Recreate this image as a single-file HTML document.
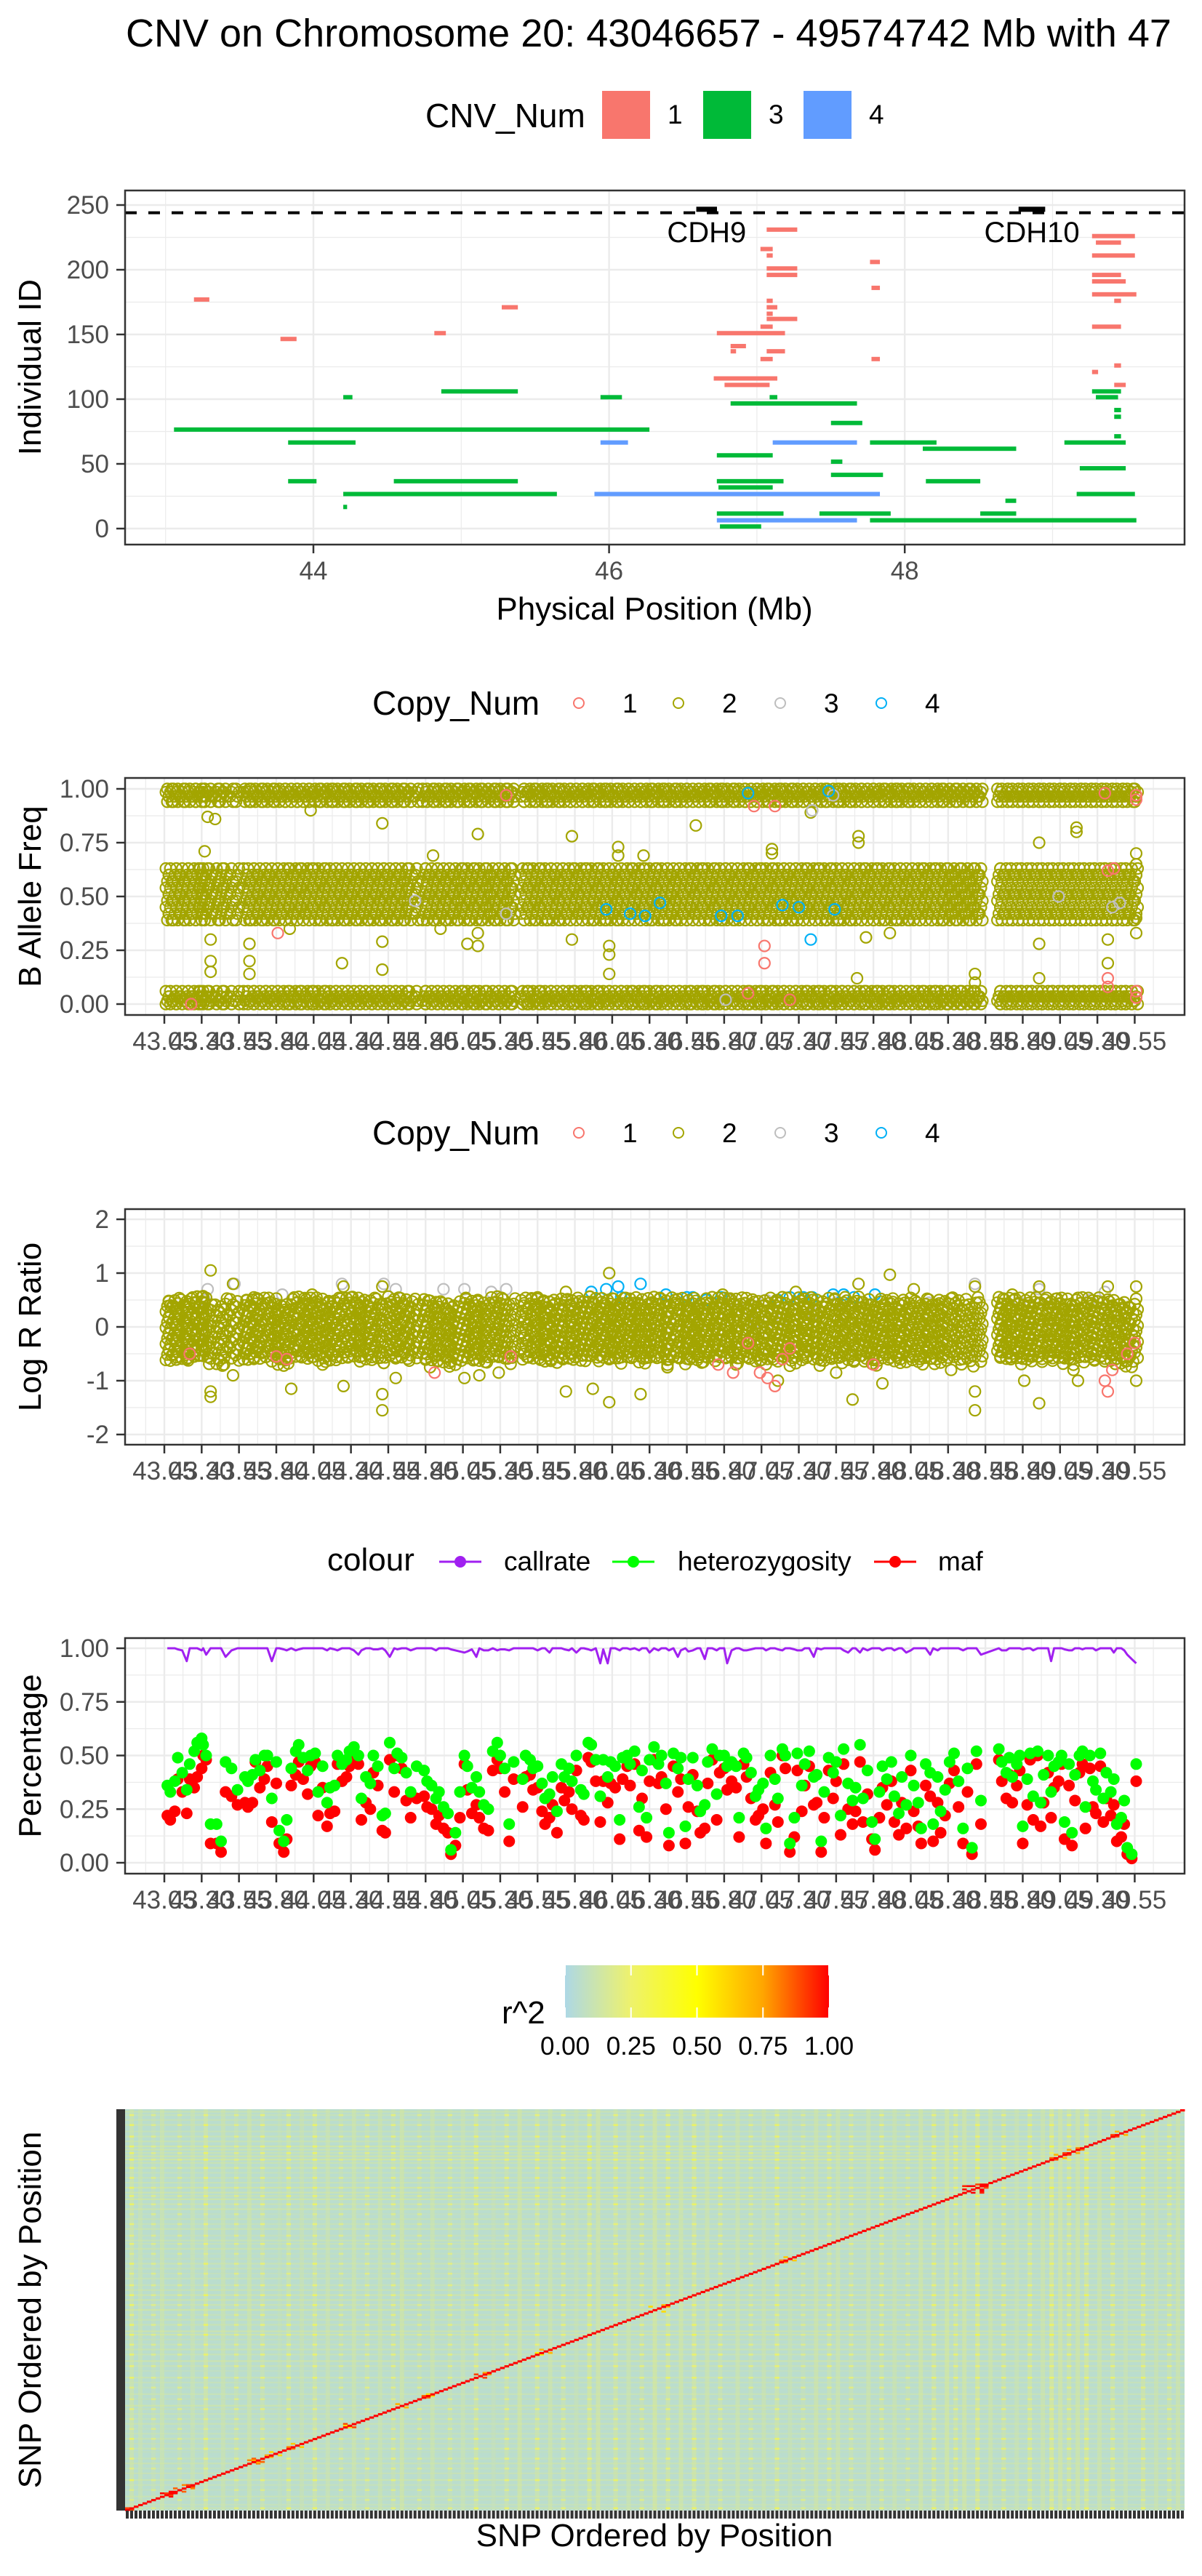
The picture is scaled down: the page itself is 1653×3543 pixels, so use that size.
<!DOCTYPE html>
<html><head><meta charset="utf-8">
<style>
html,body{margin:0;padding:0;background:#fff;}
svg{display:block;font-family:"Liberation Sans",Arial,sans-serif;}
</style></head>
<body>
<svg id="chart" width="1653" height="3543" viewBox="0 0 1653 3543" xmlns="http://www.w3.org/2000/svg">
<rect x="0" y="0" width="1653" height="3543" fill="#fff"/>
<text x="173" y="64" font-size="54" fill="#000">CNV on Chromosome 20: 43046657 - 49574742 Mb with 47</text>
</svg>
<script>
// ---------- DATA: CNV segments (panel 1) ----------
const cnvStart=[43.192,43.777,44.818,45.274,47.066,47.024,47.066,47.066,47.066,47.066,47.066,47.066,47.066,47.024,46.729,46.822,46.822,47.066,47.024,46.708,46.781,47.765,47.775,47.775,49.267,49.293,49.267,49.267,49.267,49.267,49.417,49.267,49.417,49.267,49.417,
44.865,44.202,45.942,47.086,49.267,49.293,46.822,47.501,49.417,49.417,43.057,49.417,43.829,47.765,49.080,48.122,46.729,47.501,47.501,49.184,43.829,44.544,46.729,48.143,46.740,44.202,49.163,48.681,44.202,46.729,47.423,48.511,47.765,46.750,
45.942,47.107,45.901,46.729];
const cnvEnd=[43.296,43.886,44.896,45.383,47.273,47.107,47.107,47.273,47.273,47.107,47.138,47.107,47.273,47.107,47.190,46.926,46.859,47.190,47.107,47.138,47.086,47.832,47.832,47.832,49.557,49.463,49.557,49.463,49.495,49.567,49.463,49.463,49.463,49.308,49.495,
45.383,44.264,46.087,47.138,49.463,49.443,47.677,47.713,49.463,49.463,46.273,49.463,44.285,48.215,49.495,48.754,47.107,47.578,47.853,49.495,44.021,45.383,47.180,48.511,47.107,45.647,49.557,48.754,44.228,47.180,47.905,48.754,49.567,47.029,
46.128,47.677,47.832,47.677];
const cnvId=[177,146.5,151,171,231,216,211,201,196,176,171,166,162,156,151,141,137,137,131,116,111,206,186,131,226,221,211,196,191,181,176,156,126,121,111,
106,101.5,101.5,101.5,106,101.5,96.7,81.6,91.6,86.4,76.5,71.3,66.5,66.5,66.5,61.7,56.6,51.7,41.5,46.6,36.6,36.6,36.6,36.6,31.8,26.7,26.7,21.5,16.7,11.6,11.6,11.6,6.4,1.6,
66.5,66.5,26.7,6.4];
const cnvType=[1,1,1,1,1,1,1,1,1,1,1,1,1,1,1,1,1,1,1,1,1,1,1,1,1,1,1,1,1,1,1,1,1,1,1,
3,3,3,3,3,3,3,3,3,3,3,3,3,3,3,3,3,3,3,3,3,3,3,3,3,3,3,3,3,3,3,3,3,3,
4,4,4,4];
const geneNames=["CDH9","CDH10"];
const geneStart=[46.59,48.77];
const geneEnd=[46.73,48.95];
const geneRow=[247,247];
const cnvThreshold=244;
const p1XTicks=[44,46,48];
const p1YTicks=[0,50,100,150,200,250];

// ---------- DATA: SNP positions & QC ----------
const snpPos=[43.07,43.09,43.12,43.14,43.17,43.2,43.22,43.25,43.27,43.3,43.31,43.33,43.36,43.4,43.43,43.46,43.5,43.54,
43.59,43.61,43.64,43.66,43.69,43.72,43.74,43.77,43.8,43.82,43.85,43.87,43.9,43.93,43.95,43.98,44.01,44.03,44.06,44.08,44.11,44.14,44.16,44.19,44.21,44.24,44.27,44.29,44.32,44.35,44.37,44.4,44.43,44.45,44.48,44.51,44.53,44.56,44.59,44.61,44.64,44.67,44.7,44.74,
44.79,44.81,44.84,44.87,44.89,44.92,44.95,44.97,45.0,45.03,45.06,45.08,45.11,45.14,45.16,45.19,45.22,45.25,45.28,45.3,45.33,45.36,45.39,
45.45,45.47,45.5,45.52,45.55,45.58,45.6,45.63,45.65,45.68,45.71,45.73,45.76,45.78,45.81,45.84,45.86,45.89,45.91,45.94,
45.97,45.99,46.02,46.04,46.07,46.1,46.12,46.15,46.17,46.2,46.23,46.25,46.28,46.3,46.33,46.36,46.38,46.41,46.43,46.46,
46.49,46.51,46.54,46.56,46.59,46.62,46.64,46.67,46.69,46.72,46.75,46.77,46.8,46.82,46.85,46.88,46.9,46.93,46.95,46.98,
47.01,47.03,47.06,47.08,47.11,47.14,47.16,47.19,47.21,47.24,47.27,47.29,47.32,47.34,47.37,47.4,47.42,47.45,47.47,47.5,
47.53,47.55,47.58,47.6,47.63,47.66,47.68,47.71,47.73,47.76,47.79,47.81,47.84,47.86,47.89,47.92,47.94,47.97,47.99,48.02,
48.05,48.07,48.1,48.12,48.15,48.18,48.2,48.23,48.25,48.28,48.31,48.34,48.37,48.4,48.43,48.46,48.49,48.52,
48.64,48.66,48.69,48.71,48.73,48.76,48.78,48.8,48.83,48.85,48.87,48.9,48.92,48.94,48.97,48.99,49.01,49.04,49.06,49.08,
49.11,49.13,49.15,49.18,49.2,49.22,49.25,49.27,49.29,49.32,49.34,49.36,49.39,49.41,49.43,49.46,49.48,49.5,49.53,49.56];
const callrate=[1,1,1,.995,.99,.94,1,1,1,.99,1,.97,1,1,1,.96,.99,1,
1,1,1,1,1,1,1,.94,1,1,.995,.99,1,.99,.995,1,1,1,1,1,1,.99,1,.995,.99,1,1,1,.99,.97,.99,1,1,.995,.995,1,.99,.96,1,.995,1,1,.99,1,
1,1,1,.99,1,1,1,.995,.99,.985,.98,.985,.995,.96,1,.99,.99,1,.99,.995,.995,.99,1,
1,1,1,1,.99,1,1,.98,1,1,1,.995,.99,1,.98,1,1,.995,.99,1,.93,.995,.93,1,1,.99,1,1,.995,1,
.99,1,1,.98,1,.99,1,1,.99,1,.96,.99,1,.985,.99,1,1,.95,1,1,.99,1,1,.93,.99,1,1,.99,.99,.995,
1,1,1,.99,1,1,.995,.99,1,1,.995,.99,.99,1,1,.96,1,.995,1,1,1,1,1,.99,.98,1,1,.98,1,.99,
1,1,1,.99,1,1,.99,1,1,.98,.99,1,1,1,1,.97,1,.99,1,1,1,1,1,.99,1,1,1,.97,
1,.99,.99,1,1,1,1,.995,1,1,.99,1,1,1,1,.94,1,1,1,.995,.99,.99,1,1,.995,1,1,1,.99,1,1,1,1,.98,1,1,.99,.97,.95,.93];
const maf=[.22,.2,.24,.39,.33,.23,.39,.35,.4,.44,.5,.48,.09,.09,.05,.33,.31,.27,
.28,.26,.28,.47,.35,.39,.45,.19,.37,.09,.05,.11,.36,.41,.47,.39,.32,.45,.47,.22,.35,.17,.23,.24,.46,.38,.4,.45,.48,.46,.2,.28,.25,.42,.36,.15,.14,.48,.33,.5,.44,.29,.21,.3,
.31,.26,.25,.18,.22,.16,.14,.04,.08,.21,.46,.34,.23,.27,.21,.16,.15,.43,.48,.44,.33,.1,.39,
.26,.4,.41,.34,.35,.24,.18,.21,.27,.14,.35,.29,.33,.25,.43,.22,.2,.49,.47,.38,.19,.38,.28,.37,.35,.11,.39,.45,.36,.46,
.15,.3,.12,.38,.48,.37,.4,.25,.08,.45,.33,.39,.09,.26,.41,.24,.14,.16,.37,.48,.2,.42,.44,.34,.38,.35,.12,.46,.4,.3,
.2,.22,.25,.09,.42,.27,.19,.5,.44,.05,.12,.43,.24,.36,.45,.27,.28,.05,.21,.43,.3,.38,.13,.46,.25,.18,.24,.47,.19,.32,
.11,.06,.21,.35,.27,.38,.19,.13,.28,.16,.43,.24,.17,.09,.36,.31,.1,.28,.14,.22,.37,.43,.26,.09,.33,.04,.46,.18,
.48,.38,.3,.41,.28,.36,.43,.09,.27,.48,.2,.5,.17,.28,.42,.21,.35,.38,.46,.11,.36,.08,.29,.42,.46,.16,.44,.26,.23,.45,.19,.3,.22,.27,.1,.12,.18,.04,.02,.38];
const het=[.36,.33,.38,.49,.42,.34,.46,.52,.56,.58,.55,.5,.18,.18,.1,.47,.44,.34,
.4,.38,.41,.48,.43,.5,.5,.3,.47,.15,.1,.2,.44,.52,.55,.49,.43,.5,.51,.33,.45,.28,.35,.36,.5,.46,.48,.52,.54,.5,.3,.4,.37,.5,.45,.22,.23,.56,.44,.51,.49,.42,.33,.45,
.43,.38,.36,.3,.33,.26,.23,.06,.14,.33,.5,.45,.35,.4,.33,.27,.25,.52,.56,.5,.44,.18,.47,
.39,.5,.48,.44,.45,.37,.3,.32,.4,.24,.46,.4,.44,.38,.5,.34,.32,.56,.55,.48,.31,.48,.4,.47,.45,.2,.49,.5,.46,.52,
.26,.43,.21,.48,.54,.46,.5,.37,.14,.51,.44,.49,.17,.39,.49,.36,.24,.27,.47,.53,.32,.5,.5,.45,.47,.45,.21,.51,.49,.42,
.31,.34,.37,.16,.5,.39,.3,.53,.5,.09,.21,.51,.36,.46,.52,.4,.41,.1,.33,.49,.42,.47,.22,.53,.37,.29,.35,.55,.3,.43,
.19,.11,.33,.45,.39,.47,.31,.23,.4,.27,.5,.36,.28,.16,.46,.42,.18,.4,.24,.34,.47,.51,.38,.16,.44,.07,.52,.29,
.53,.47,.42,.49,.4,.46,.5,.17,.39,.51,.31,.52,.28,.41,.5,.33,.45,.47,.5,.19,.46,.14,.41,.5,.52,.26,.5,.38,.34,.51,.3,.42,.33,.39,.18,.21,.29,.07,.04,.46];

// ---------- DATA: BAF ----------
const bafBandValues=[0,0.015,0.035,0.06,0.39,0.42,0.45,0.48,0.51,0.54,0.57,0.6,0.63,0.94,0.965,0.985,1];
const bafOutPos=[43.32,43.36,43.36,43.36,43.34,43.39,43.62,43.62,43.62,43.89,44.03,44.24,44.51,44.51,44.51,44.85,44.90,45.08,45.15,45.15,45.15,45.78,45.78,46.03,46.03,46.03,46.09,46.09,46.26,46.61,47.12,47.12,47.38,47.70,47.70,47.69,47.75,47.91,48.48,48.48,48.91,48.91,48.91,49.16,49.16,49.37,49.37,49.56,49.56,49.56,49.56,49.56];
const bafOutVal=[0.71,0.3,0.2,0.15,0.87,0.86,0.28,0.2,0.14,0.35,0.9,0.19,0.84,0.29,0.16,0.69,0.35,0.28,0.79,0.33,0.27,0.78,0.3,0.27,0.23,0.14,0.73,0.69,0.69,0.83,0.72,0.7,0.89,0.78,0.75,0.12,0.31,0.33,0.14,0.1,0.75,0.28,0.12,0.82,0.8,0.3,0.19,0.7,0.33,0.4,0.6,0.65];
const bafCn1Pos=[43.81,47.07,47.07,49.37,49.41,49.56,49.56,49.56,49.56,49.37,49.37,47.00,47.14,46.96,43.23,45.34,47.24,49.35];
const bafCn1Val=[0.33,0.27,0.19,0.62,0.63,0.97,0.95,0.06,0.03,0.08,0.12,0.92,0.92,0.05,0.0,0.97,0.02,0.98];
const bafCn3Pos=[47.39,46.81,49.45,49.40,47.53,45.34,44.73,49.04];
const bafCn3Val=[0.9,0.02,0.47,0.45,0.97,0.42,0.48,0.5];
const bafCn4Pos=[47.38,46.78,46.89,47.54,46.17,46.01,47.30,46.96,47.50,47.19,46.37,46.27];
const bafCn4Val=[0.3,0.41,0.41,0.44,0.42,0.44,0.45,0.98,0.99,0.46,0.47,0.41];
const bafYTicks=[0,0.25,0.5,0.75,1];
const snpXTicks=[43.05,43.30,43.55,43.80,44.05,44.30,44.55,44.80,45.05,45.30,45.55,45.80,46.05,46.30,46.55,46.80,47.05,47.30,47.55,47.80,48.05,48.30,48.55,48.80,49.05,49.30,49.55];

// ---------- DATA: LRR ----------
const lrrBandValues=[-0.6,-0.5,-0.4,-0.3,-0.2,-0.1,0,0.1,0.2,0.3,0.4,0.5];
const lrrOutPos=[43.36,43.36,43.36,43.51,43.51,43.90,44.25,44.25,44.51,44.51,44.51,44.60,45.06,45.16,45.74,45.92,46.03,46.03,46.24,46.42,47.16,47.66,47.91,48.07,47.86,48.48,48.48,48.48,48.81,48.91,48.91,49.17,49.56,49.56,49.37,45.74,46.79,47.28,47.70,43.09,43.20,43.45,43.65,44.04,44.11,44.83,45.29,45.55,46.47,46.88,47.55,48.32,48.73,49.14];
const lrrOutVal=[1.05,-1.2,-1.3,0.8,-0.9,-1.15,0.75,-1.1,-1.55,-1.25,0.75,-0.95,-0.95,-0.9,-1.2,-1.15,-1.4,1.0,-1.25,-0.75,-1.0,-1.35,0.97,0.7,-1.05,-1.55,-1.2,0.75,-1.0,-1.42,0.75,-1.0,-1.0,0.75,0.75,0.65,0.6,0.65,0.8,0.4,-0.6,-0.7,0.55,0.6,-0.7,-0.75,-0.85,0.55,0.5,-0.7,-0.85,-0.8,0.6,-0.8];
const lrrCn1Pos=[43.22,43.80,43.87,44.86,45.37,46.76,46.86,47.04,47.09,47.14,47.19,47.24,47.80,49.35,49.37,49.40,49.50,49.55,46.96];
const lrrCn1Val=[-0.5,-0.55,-0.6,-0.85,-0.55,-0.7,-0.85,-0.85,-0.95,-1.1,-0.6,-0.4,-0.7,-1.0,-1.2,-0.8,-0.5,-0.3,-0.3];
const lrrCn3Pos=[43.34,43.52,43.32,43.84,44.24,44.52,44.60,44.92,45.06,45.24,45.34,46.83,46.88,46.96,47.08,47.40,47.55,47.60,48.17,48.48,48.78,48.91,49.25,49.35,49.43,47.19,47.01];
const lrrCn3Val=[0.7,0.8,0.5,0.6,0.8,0.8,0.7,0.7,0.7,0.65,0.7,0.5,0.3,0.35,0.5,0.25,0.45,0.2,0.45,0.8,0.45,0.7,0.5,0.65,0.3,0.15,0.1];
const lrrCn4Pos=[45.91,46.01,46.09,46.24,46.32,46.41,46.55,46.59,46.68,46.78,47.16,47.24,47.33,47.39,47.53,47.60,47.67,47.81,46.11];
const lrrCn4Val=[0.65,0.7,0.75,0.8,0.45,0.6,0.55,0.55,0.5,0.55,0.5,0.55,0.55,0.55,0.6,0.6,0.55,0.6,0.55];
const lrrYTicks=[-2,-1,0,1,2];
const pctYTicks=[0,0.25,0.5,0.75,1];

// ---------- DATA: LD ----------
const ldPaleIdx=[1,3,6,8,12,15,18,22,25,28,31,35,37,40,43,46,49,52,55,58,61,63,67,70,74,77,80,84,87,90,94,97,100,103,106,108,112,115,118,121,124,127,130,133,136,140,143,146,149,152,155,158,161,163,166,170,173,176,179,182,185,188,190,192,195,198,201,204,207,210,212,214,216,218,220,223,226,229,233,236,239,241];
const ldPaleR2=[.3,.25,.2,.28,.2,.25,.32,.27,.22,.3,.25,.18,.28,.24,.3,.26,.2,.3,.22,.27,.24,.33,.2,.28,.22,.25,.3,.2,.26,.34,.28,.3,.25,.22,.36,.35,.3,.28,.24,.38,.3,.33,.34,.3,.26,.28,.22,.27,.3,.24,.2,.31,.26,.29,.23,.3,.25,.27,.2,.33,.3,.36,.28,.34,.38,.3,.27,.25,.32,.3,.4,.35,.3,.33,.36,.3,.28,.26,.31,.27,.25,.3];
const ldPairI=[0,1,8,9,10,10,11,13,14,28,30,29,32,33,37,38,50,51,62,64,68,69,80,82,94,95,120,123,150,151,192,193,194,196,192,195,212,213,215,216,218,226,227];
const ldPairJ=[1,0,10,10,11,9,13,15,15,30,29,31,33,35,38,40,52,50,64,62,69,70,82,83,95,97,123,124,151,153,194,196,196,197,196,197,213,215,216,218,219,227,229];
const ldPairR2=[.8,.9,1,1,1,.9,.85,.8,.9,.8,.7,.85,.75,.6,.8,.65,.9,.6,.8,.7,.85,.6,.9,.75,.55,.7,.6,.7,.8,.65,1,1,1,1,.95,.9,.85,.7,.9,.75,.8,.9,.7];

// ---------- helpers ----------
const NS='http://www.w3.org/2000/svg';
const svg=document.getElementById('chart');
function mk(tag,attrs,parent){const e=document.createElementNS(NS,tag);for(const k in attrs)e.setAttribute(k,attrs[k]);(parent||svg).appendChild(e);return e;}
function grp(name){const g=mk('g',{});


return g;}
function txt(parent,x,y,s,size,anchor,color,rot){const t=mk('text',{x:x,y:y,'font-size':size,'text-anchor':anchor||'start',fill:color||'#000'},parent);if(rot)t.setAttribute('transform','rotate(-90 '+x+' '+y+')');t.textContent=s;return t;}
const GRID='#EBEBEB',AXIS='#333333',TICKC='#4D4D4D';
const L=172,R=1629;
function panelFrame(g,top,bottom){mk('rect',{x:L,y:top,width:R-L,height:bottom-top,fill:'none',stroke:AXIS,'stroke-width':2.5},g);}
function yAxis(g,ticks,ys,fmt){ticks.forEach(v=>{const y=ys(v);mk('line',{x1:160,x2:L,y1:y,y2:y,stroke:AXIS,'stroke-width':2.5},g);txt(g,150,y+12,fmt(v),35,'end',TICKC);});}
function hgrid(g,ticks,ys){for(let k=0;k<ticks.length;k++){const y=ys(ticks[k]);mk('line',{x1:L,x2:R,y1:y,y2:y,stroke:GRID,'stroke-width':2.4},g);if(k<ticks.length-1){const ym=ys((ticks[k]+ticks[k+1])/2);mk('line',{x1:L,x2:R,y1:ym,y2:ym,stroke:GRID,'stroke-width':1.2},g);}}}

// ---------- Legend 1 ----------
{const g=grp('cnv-legend');
txt(g,585,175,'CNV_Num',46,'start','#000');
const cols={1:'#F8766D',3:'#00BA38',4:'#619CFF'};
[[1,828],[3,967],[4,1105]].forEach(([k,x])=>{const r=mk('rect',{x:x,y:125,width:66,height:66,fill:cols[k]},g);


txt(g,x+90,170,String(k),37,'start','#000');});}

// ---------- Panel 1 ----------
{const g=grp('cnv-panel');
const x1=v=>431+(v-44)*203.3, y1=v=>727-v*1.78;
const top=262,bot=749;
for(let v=43;v<=49;v++){const x=x1(v);if(x<L||x>R)continue;mk('line',{x1:x,x2:x,y1:top,y2:bot,stroke:GRID,'stroke-width':(v%2===0)?2.4:1.2},g);}
hgrid(g,p1YTicks,y1);
const th=mk('line',{x1:L,x2:R,y1:y1(cnvThreshold),y2:y1(cnvThreshold),stroke:'#000','stroke-width':4,'stroke-dasharray':'16 16'},g);


const cols={1:'#F8766D',3:'#00BA38',4:'#619CFF'};
for(let i=0;i<cnvStart.length;i++){const xa=x1(cnvStart[i]),xb=x1(cnvEnd[i]);const r=mk('rect',{x:xa,y:y1(cnvId[i])-3,width:Math.max(xb-xa,5),height:6,fill:cols[cnvType[i]]},g);

}
for(let i=0;i<geneNames.length;i++){const xa=x1(geneStart[i]),xb=x1(geneEnd[i]);const r=mk('rect',{x:xa,y:y1(geneRow[i])-3,width:xb-xa,height:7,fill:'#000'},g);


const t=txt(g,(xa+xb)/2,333,geneNames[i],40,'middle','#000');

}
panelFrame(g,top,bot);
yAxis(g,p1YTicks,y1,v=>String(v));
p1XTicks.forEach(v=>{const x=x1(v);mk('line',{x1:x,x2:x,y1:bot,y2:bot+12,stroke:AXIS,'stroke-width':2.5},g);txt(g,x,797,String(v),35,'middle',TICKC);});
const xt=txt(g,900,852,'Physical Position (Mb)',44,'middle','#000');


const yt=txt(g,56,505,'Individual ID',44,'middle','#000',true);

}

// ---------- shared snp x scale ----------
const xs=v=>226+(v-43.05)*205.3;
const CN={1:'#F8766D',2:'#A3A500',3:'#BEBEBE',4:'#00B0F6'};
function vgridSnp(g,top,bot){for(let k=0;k<snpXTicks.length;k++){const x=xs(snpXTicks[k]);mk('line',{x1:x,x2:x,y1:top,y2:bot,stroke:GRID,'stroke-width':2.4},g);const xm=xs(snpXTicks[k]-0.125);if(xm>L)mk('line',{x1:xm,x2:xm,y1:top,y2:bot,stroke:GRID,'stroke-width':1.2},g);}const xe=xs(snpXTicks[snpXTicks.length-1]+0.125);mk('line',{x1:xe,x2:xe,y1:top,y2:bot,stroke:GRID,'stroke-width':1.2},g);}
function xAxisSnp(g,bot,base){snpXTicks.forEach(v=>{const x=xs(v);mk('line',{x1:x,x2:x,y1:bot,y2:bot+12,stroke:AXIS,'stroke-width':2.5},g);txt(g,x,base,v.toFixed(2),35,'middle',TICKC);});}
function cnLegend(name,cy){const g=grp(name);txt(g,512,cy+16,'Copy_Num',46,'start','#000');
[[1,796],[2,933],[3,1073],[4,1212]].forEach(([k,x])=>{const c=mk('circle',{cx:x,cy:cy,r:7,fill:'none',stroke:CN[k],'stroke-width':2},g);


txt(g,x+60,cy+13,String(k),37,'start','#000');});}
function circ(g,x,y,col){mk('circle',{cx:x,cy:y,r:7.5,fill:'none',stroke:col,'stroke-width':2.2},g);}

// ---------- BAF ----------
cnLegend('baf-legend',967);
{const g=grp('baf-panel');const top=1070,bot=1396;const yb=v=>1381-v*296;
vgridSnp(g,top,bot);hgrid(g,bafYTicks,yb);
const pts=grp('baf-points');g.appendChild(pts);
snpPos.forEach((p,i)=>{bafBandValues.forEach((v,k)=>circ(pts,xs(p)+((k+i)%3-1)*2,yb(v),CN[2]));});
bafOutPos.forEach((p,i)=>circ(pts,xs(p),yb(bafOutVal[i]),CN[2]));
bafCn3Pos.forEach((p,i)=>circ(pts,xs(p),yb(bafCn3Val[i]),CN[3]));
bafCn1Pos.forEach((p,i)=>circ(pts,xs(p),yb(bafCn1Val[i]),CN[1]));
bafCn4Pos.forEach((p,i)=>circ(pts,xs(p),yb(bafCn4Val[i]),CN[4]));
panelFrame(g,top,bot);yAxis(g,bafYTicks,yb,v=>v.toFixed(2));xAxisSnp(g,bot,1444);
const yt=txt(g,56,1233,'B Allele Freq',44,'middle','#000',true);

}

// ---------- LRR ----------
cnLegend('lrr-legend',1558);
{const g=grp('lrr-panel');const top=1663,bot=1987;const yl=v=>1825-v*74;
vgridSnp(g,top,bot);hgrid(g,lrrYTicks,yl);
const pts=grp('lrr-points');g.appendChild(pts);
lrrCn3Pos.forEach((p,i)=>circ(pts,xs(p),yl(lrrCn3Val[i]),CN[3]));
lrrCn4Pos.forEach((p,i)=>circ(pts,xs(p),yl(lrrCn4Val[i]),CN[4]));
snpPos.forEach((p,i)=>{lrrBandValues.forEach((v,k)=>circ(pts,xs(p)+((k+i)%3-1)*2,yl(v+(het[i]-0.4)*0.4),CN[2]));});
lrrOutPos.forEach((p,i)=>circ(pts,xs(p),yl(lrrOutVal[i]),CN[2]));
lrrCn1Pos.forEach((p,i)=>circ(pts,xs(p),yl(lrrCn1Val[i]),CN[1]));
panelFrame(g,top,bot);yAxis(g,lrrYTicks,yl,v=>String(v));xAxisSnp(g,bot,2035);
const yt=txt(g,56,1825,'Log R Ratio',44,'middle','#000',true);

}

// ---------- QC legend ----------
{const g=grp('qc-legend');const cy=2148;
txt(g,450,cy+12,'colour',44,'start','#000');
[['callrate','#A020F0',604,693],['heterozygosity','#00FF00',842,932],['maf','#FF0000',1202,1290]].forEach(([n,c,x,tx])=>{
mk('line',{x1:x,x2:x+58,y1:cy,y2:cy,stroke:c,'stroke-width':3},g);
const d=mk('circle',{cx:x+29,cy:cy,r:8,fill:c},g);


txt(g,tx,cy+12,n,37,'start','#000');});}

// ---------- QC panel ----------
{const g=grp('qc-panel');const top=2253,bot=2577;const yp=v=>2562-v*295;
vgridSnp(g,top,bot);hgrid(g,pctYTicks,yp);
let d='';snpPos.forEach((p,i)=>{d+=(i?'L':'M')+xs(p).toFixed(1)+' '+yp(callrate[i]).toFixed(1);});
const line=mk('path',{d:d,fill:'none',stroke:'#A020F0','stroke-width':3,'stroke-linejoin':'round'},g);


const gm=grp('maf-points');g.appendChild(gm);
snpPos.forEach((p,i)=>{mk('circle',{cx:xs(p),cy:yp(maf[i]),r:8,fill:'#FF0000'},gm);});
const gh=grp('heterozygosity-points');g.appendChild(gh);
snpPos.forEach((p,i)=>{mk('circle',{cx:xs(p),cy:yp(het[i]),r:8,fill:'#00FF00'},gh);});
panelFrame(g,top,bot);yAxis(g,pctYTicks,yp,v=>v.toFixed(2));xAxisSnp(g,bot,2625);
const yt=txt(g,56,2415,'Percentage',44,'middle','#000',true);

}

// ---------- r^2 legend ----------
{const g=grp('r2-legend');
const defs=mk('defs',{},g);const lg=mk('linearGradient',{id:'r2g',x1:'0',x2:'1',y1:'0',y2:'0'},defs);
[['0','#ADD8E6'],['0.25','#EEF26C'],['0.5','#FFFF00'],['0.75','#FFA500'],['1','#FF0000']].forEach(([o,c])=>mk('stop',{offset:o,'stop-color':c},lg));
const bar=mk('rect',{x:777,y:2703,width:363,height:72,fill:'url(#r2g)'},g);


txt(g,690,2783,'r^2',44,'start','#000');
[0,0.25,0.5,0.75,1].forEach(v=>{const x=777+v*363;
mk('line',{x1:x,x2:x,y1:2703,y2:2717,stroke:'#fff','stroke-width':2},g);
mk('line',{x1:x,x2:x,y1:2761,y2:2775,stroke:'#fff','stroke-width':2},g);
txt(g,x,2826,v.toFixed(2),35,'middle','#000');});}

// ---------- LD heatmap ----------
function r2col(v){const st=[[0,[173,216,230]],[0.25,[238,242,108]],[0.5,[255,255,0]],[0.75,[255,165,0]],[1,[255,0,0]]];
for(let k=0;k<st.length-1;k++){if(v<=st[k+1][0]){const t=(v-st[k][0])/(st[k+1][0]-st[k][0]);const a=st[k][1],b=st[k+1][1];return 'rgb('+a.map((c,j)=>Math.round(c+(b[j]-c)*t)).join(',')+')';}}return 'rgb(255,0,0)';}
{const g=grp('ld-heatmap');const N=snpPos.length;const top=2901,bot=3453;const cw=(R-L)/N,ch=(bot-top)/N;
const cx=i=>L+i*cw, cy=j=>bot-(j+1)*ch;
mk('rect',{x:L,y:top,width:R-L,height:bot-top,fill:r2col(0.05)},g);
const pale=grp('ld-background-cells');g.appendChild(pale);
ldPaleIdx.forEach((ix,a)=>{mk('rect',{x:cx(ix),y:top,width:cw,height:bot-top,fill:r2col(ldPaleR2[a]*0.5),opacity:0.5},pale);
mk('rect',{x:L,y:cy(ix),width:R-L,height:ch,fill:r2col(ldPaleR2[a]*0.5),opacity:0.5},pale);});
for(let a=0;a<ldPaleIdx.length;a+=2)for(let b=0;b<ldPaleIdx.length;b+=2){const v=Math.min(ldPaleR2[a],ldPaleR2[b]);mk('rect',{x:cx(ldPaleIdx[a]),y:cy(ldPaleIdx[b]),width:cw+0.3,height:ch+0.3,fill:r2col(v),opacity:0.8},pale);}
const pr=grp('ld-pair-cells');g.appendChild(pr);
ldPairI.forEach((i,k)=>{mk('rect',{x:cx(i),y:cy(ldPairJ[k]),width:cw+0.3,height:ch+0.3,fill:r2col(ldPairR2[k])},pr);mk('rect',{x:cx(ldPairJ[k]),y:cy(i),width:cw+0.3,height:ch+0.3,fill:r2col(ldPairR2[k])},pr);});
const dg=grp('ld-diagonal');g.appendChild(dg);
snpPos.forEach((p,i)=>{mk('rect',{x:cx(i),y:cy(i),width:cw+0.5,height:ch+0.8,fill:r2col(1)},dg);});
mk('rect',{x:160,y:top,width:12,height:bot-top,fill:AXIS},g);
snpPos.forEach((p,i)=>{mk('rect',{x:cx(i)+1,y:bot,width:4,height:11,fill:AXIS},g);});
const xt=txt(g,900,3502,'SNP Ordered by Position',44,'middle','#000');


const yt=txt(g,56,3177,'SNP Ordered by Position',44,'middle','#000',true);

}
</script>
</body></html>
